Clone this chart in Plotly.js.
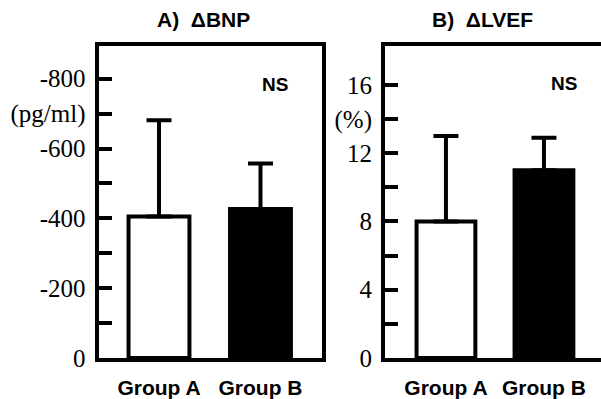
<!DOCTYPE html>
<html>
<head>
<meta charset="utf-8">
<script src="https://cdn.plot.ly/plotly-3.0.1.min.js"></script>
<style>html,body{margin:0;padding:0;background:#fff;}</style>
</head>
<body>
<div id="chart" style="width:601px;height:399px;"></div>
<script>
// Data
const groups = ["Group A", "Group B"];
const bnpMeans = [-405, -427];
const bnpErr = [276, 130];
const lvefMeans = [8.0, 11.0];
const lvefErr = [5.0, 1.9];
const bnpTickVals = [0, -100, -200, -300, -400, -500, -600, -700, -800];
const bnpTickText = ["0", "", "-200", "", "-400", "", "-600", "(pg/ml)", "-800"];
const lvefTickVals = [0, 2, 4, 6, 8, 10, 12, 14, 16];
const lvefTickText = ["0", "", "4", "", "8", "", "12", "(%)", "16"];
const fills = ["#ffffff", "#000000"];

const W = 601, H = 399;
const tickFont = {family: "Liberation Serif, Times New Roman, serif", size: 25, color: "#000"};
const catFont = {family: "Liberation Sans, Arial, sans-serif", size: 21, color: "#000", weight: "bold"};

const traces = [
  {
    type: "bar", x: groups, y: bnpMeans, xaxis: "x", yaxis: "y",
    width: 0.6,
    marker: {color: fills, line: {color: "#000", width: 4}},
    error_y: {type: "data", symmetric: false, array: [0, 0], arrayminus: bnpErr, color: "#000", thickness: 4, width: 12.5},
    hoverinfo: "none"
  },
  {
    type: "bar", x: groups, y: lvefMeans, xaxis: "x2", yaxis: "y2",
    width: 0.6,
    marker: {color: fills, line: {color: "#000", width: 4}},
    error_y: {type: "data", symmetric: false, array: lvefErr, arrayminus: [0, 0], color: "#000", thickness: 4, width: 12.5},
    hoverinfo: "none"
  }
];

const yDom = [1 - 358 / H, 1 - 45.5 / H];
const layout = {
  width: W, height: H,
  margin: {l: 0, r: 0, t: 0, b: 0},
  paper_bgcolor: "#fff", plot_bgcolor: "#fff",
  showlegend: false,
  xaxis: {
    domain: [98.5 / W, 322 / W], anchor: "y",
    range: [-0.596, 1.606], type: "category",
    showline: true, linecolor: "#000", linewidth: 4, mirror: true,
    ticks: "", showgrid: false, zeroline: false,
    tickfont: catFont, ticklabelstandoff: 8
  },
  yaxis: {
    domain: yDom, anchor: "x",
    range: [0, -895],
    showline: true, linecolor: "#000", linewidth: 4, mirror: true,
    tickmode: "array", tickvals: bnpTickVals, ticktext: bnpTickText,
    ticks: "inside", ticklen: 13, tickwidth: 4, tickcolor: "#000",
    showgrid: false, zeroline: false,
    tickfont: tickFont, ticklabelstandoff: 4
  },
  xaxis2: {
    domain: [385 / W, 1], anchor: "y2",
    range: [-0.622, 1.582], type: "category",
    showline: true, linecolor: "#000", linewidth: 4, mirror: true,
    ticks: "", showgrid: false, zeroline: false,
    tickfont: catFont, ticklabelstandoff: 8
  },
  yaxis2: {
    domain: yDom, anchor: "x2",
    range: [0, 18.3],
    showline: true, linecolor: "#000", linewidth: 4, mirror: false,
    tickmode: "array", tickvals: lvefTickVals, ticktext: lvefTickText,
    ticks: "inside", ticklen: 13, tickwidth: 4, tickcolor: "#000",
    showgrid: false, zeroline: false,
    tickfont: tickFont, ticklabelstandoff: 4
  },
  annotations: [
    {text: "<b>A)  ΔBNP</b>", xref: "paper", yref: "paper", x: 204 / W, y: 1 - 19 / H, xanchor: "center", yanchor: "middle", showarrow: false,
     font: {family: "Liberation Sans, Arial, sans-serif", size: 21, color: "#000"}},
    {text: "<b>B)  ΔLVEF</b>", xref: "paper", yref: "paper", x: 483 / W, y: 1 - 19 / H, xanchor: "center", yanchor: "middle", showarrow: false,
     font: {family: "Liberation Sans, Arial, sans-serif", size: 21, color: "#000"}},
    {text: "<b>NS</b>", xref: "paper", yref: "paper", x: 275 / W, y: 1 - 84 / H, xanchor: "center", yanchor: "middle", showarrow: false,
     font: {family: "Liberation Sans, Arial, sans-serif", size: 19, color: "#000"}},
    {text: "<b>NS</b>", xref: "paper", yref: "paper", x: 564 / W, y: 1 - 83 / H, xanchor: "center", yanchor: "middle", showarrow: false,
     font: {family: "Liberation Sans, Arial, sans-serif", size: 19, color: "#000"}}
  ]
};

Plotly.newPlot("chart", traces, layout, {staticPlot: true, displayModeBar: false});
</script>
</body>
</html>
